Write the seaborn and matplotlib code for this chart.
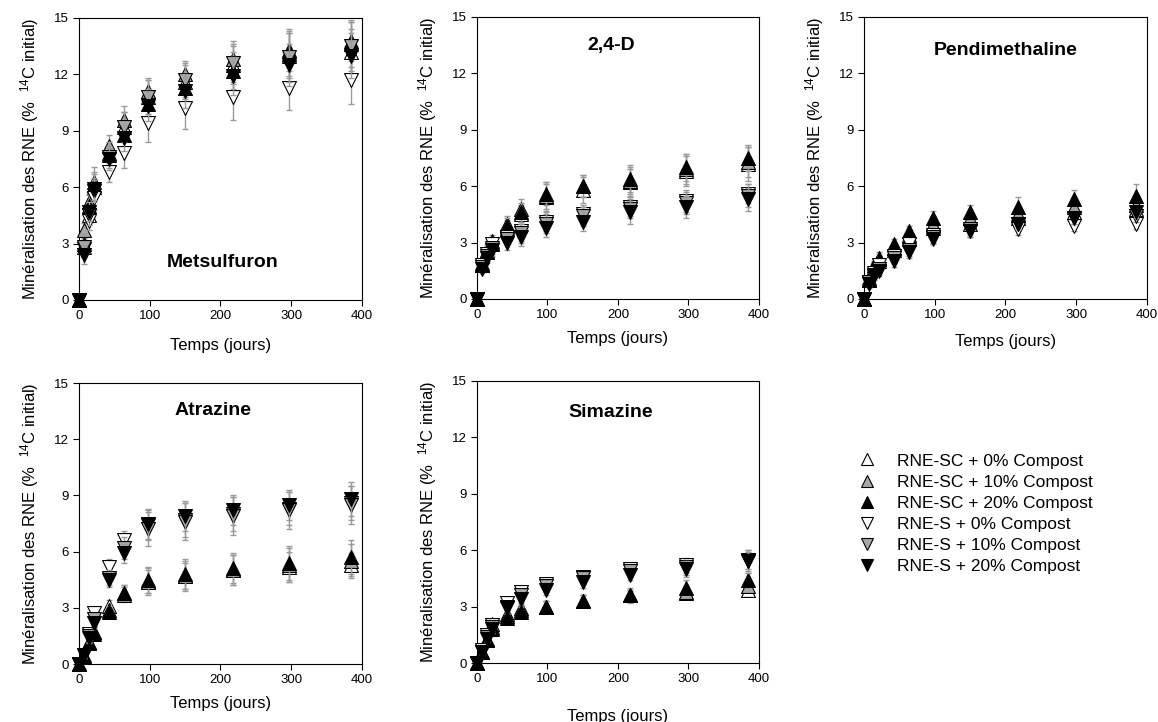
import matplotlib
matplotlib.use('Agg')
import numpy as np
import pandas as pd
import matplotlib.pyplot as plt
import seaborn as sns
from matplotlib.lines import Line2D

sns.set_style('ticks')
plt.rcParams['font.family'] = ['Liberation Sans', 'DejaVu Sans']
plt.rcParams['mathtext.default'] = 'regular'
plt.rcParams['text.color'] = 'black'
plt.rcParams['axes.labelcolor'] = 'black'

# ---- data ----
times = [0, 7, 14, 21, 42, 63, 98, 150, 217, 297, 385]

series = ['RNE-SC + 0% Compost', 'RNE-SC + 10% Compost', 'RNE-SC + 20% Compost',
          'RNE-S + 0% Compost', 'RNE-S + 10% Compost', 'RNE-S + 20% Compost']

metsulfuron_mean = [
    [0, 2.8, 4.5, 6.0, 7.8, 9.2, 10.8, 11.6, 12.5, 13.0, 13.2],
    [0, 3.7, 5.2, 6.3, 8.2, 9.6, 11.1, 12.0, 12.8, 13.1, 13.6],
    [0, 3.0, 5.0, 6.1, 7.7, 8.8, 10.4, 11.3, 12.2, 13.3, 13.8],
    [0, 2.7, 4.2, 5.4, 6.8, 7.8, 9.4, 10.2, 10.8, 11.3, 11.7],
    [0, 2.8, 4.5, 5.8, 7.6, 9.2, 10.8, 11.7, 12.6, 12.9, 13.5],
    [0, 2.4, 4.7, 5.9, 7.5, 8.6, 10.3, 11.1, 11.9, 12.5, 13.0],
]
metsulfuron_err = [
    [0, 0.4, 0.5, 0.7, 0.6, 0.8, 0.9, 0.9, 1.0, 1.2, 1.2],
    [0, 0.4, 0.5, 0.8, 0.6, 0.7, 0.7, 0.7, 1.0, 1.2, 1.2],
    [0, 0.5, 0.6, 0.7, 0.7, 0.8, 0.8, 0.8, 1.0, 1.1, 1.1],
    [0, 0.4, 0.5, 0.6, 0.5, 0.8, 1.0, 1.1, 1.2, 1.2, 1.3],
    [0, 0.4, 0.5, 0.6, 0.6, 0.8, 0.9, 0.9, 1.0, 1.3, 1.3],
    [0, 0.5, 0.5, 0.6, 0.6, 0.7, 0.8, 0.9, 1.0, 1.1, 1.2],
]

d24_mean = [
    [0, 1.8, 2.5, 2.9, 3.8, 4.5, 5.4, 5.8, 6.2, 6.8, 7.2],
    [0, 1.9, 2.6, 3.1, 4.0, 4.8, 5.5, 6.0, 6.3, 6.9, 7.3],
    [0, 1.8, 2.5, 3.0, 3.9, 4.6, 5.6, 6.0, 6.4, 7.0, 7.5],
    [0, 1.8, 2.4, 2.9, 3.3, 3.6, 4.1, 4.5, 4.9, 5.2, 5.6],
    [0, 1.7, 2.3, 2.7, 3.2, 3.5, 4.0, 4.4, 4.8, 5.1, 5.5],
    [0, 1.6, 2.2, 2.6, 3.0, 3.3, 3.8, 4.1, 4.6, 4.9, 5.3],
]
d24_err = [
    [0, 0.2, 0.3, 0.3, 0.4, 0.5, 0.7, 0.7, 0.7, 0.8, 0.9],
    [0, 0.2, 0.3, 0.3, 0.4, 0.5, 0.7, 0.6, 0.7, 0.8, 0.8],
    [0, 0.2, 0.3, 0.3, 0.4, 0.5, 0.6, 0.6, 0.7, 0.7, 0.7],
    [0, 0.2, 0.3, 0.3, 0.3, 0.5, 0.5, 0.5, 0.5, 0.6, 0.5],
    [0, 0.2, 0.3, 0.3, 0.3, 0.5, 0.5, 0.5, 0.5, 0.6, 0.6],
    [0, 0.2, 0.3, 0.3, 0.4, 0.5, 0.5, 0.5, 0.6, 0.6, 0.6],
]

pendimethaline_mean = [
    [0, 1.0, 1.6, 2.0, 2.6, 3.2, 3.8, 4.0, 4.3, 4.6, 4.8],
    [0, 1.1, 1.7, 2.2, 2.7, 3.4, 4.0, 4.3, 4.5, 4.9, 5.0],
    [0, 1.0, 1.8, 2.1, 2.9, 3.6, 4.3, 4.6, 4.9, 5.3, 5.5],
    [0, 0.9, 1.4, 1.8, 2.3, 2.9, 3.4, 3.6, 3.7, 3.9, 4.0],
    [0, 0.9, 1.3, 1.6, 2.2, 2.6, 3.3, 3.7, 4.0, 4.3, 4.4],
    [0, 0.8, 1.2, 1.5, 2.0, 2.5, 3.2, 3.6, 4.0, 4.3, 4.6],
]
pendimethaline_err = [
    [0, 0.2, 0.2, 0.3, 0.3, 0.3, 0.4, 0.4, 0.4, 0.5, 0.5],
    [0, 0.2, 0.2, 0.3, 0.3, 0.3, 0.4, 0.4, 0.4, 0.5, 0.5],
    [0, 0.2, 0.2, 0.3, 0.3, 0.3, 0.4, 0.4, 0.5, 0.5, 0.6],
    [0, 0.2, 0.2, 0.2, 0.3, 0.3, 0.3, 0.3, 0.3, 0.3, 0.3],
    [0, 0.2, 0.2, 0.2, 0.3, 0.3, 0.3, 0.3, 0.3, 0.3, 0.3],
    [0, 0.2, 0.2, 0.2, 0.3, 0.3, 0.3, 0.3, 0.3, 0.3, 0.3],
]

atrazine_mean = [
    [0, 0.5, 1.2, 1.7, 3.1, 3.8, 4.4, 4.7, 5.0, 5.2, 5.3],
    [0, 0.4, 1.1, 1.7, 2.9, 3.7, 4.4, 4.7, 5.0, 5.3, 5.5],
    [0, 0.4, 1.1, 1.6, 2.8, 3.8, 4.5, 4.8, 5.1, 5.4, 5.7],
    [0, 0.5, 1.6, 2.7, 5.2, 6.6, 7.4, 7.7, 8.0, 8.3, 8.6],
    [0, 0.5, 1.5, 2.4, 4.6, 6.2, 7.2, 7.6, 7.9, 8.2, 8.5],
    [0, 0.5, 1.4, 2.2, 4.5, 5.9, 7.5, 7.9, 8.2, 8.5, 8.8],
]
atrazine_err = [
    [0, 0.2, 0.2, 0.3, 0.3, 0.4, 0.6, 0.7, 0.8, 0.8, 0.6],
    [0, 0.2, 0.2, 0.3, 0.3, 0.4, 0.7, 0.8, 0.8, 0.9, 0.9],
    [0, 0.2, 0.2, 0.3, 0.3, 0.4, 0.7, 0.8, 0.8, 0.9, 0.9],
    [0, 0.2, 0.3, 0.3, 0.4, 0.5, 0.8, 0.9, 0.9, 0.9, 0.9],
    [0, 0.2, 0.3, 0.3, 0.4, 0.6, 0.9, 1.0, 1.0, 1.0, 1.0],
    [0, 0.2, 0.3, 0.3, 0.4, 0.5, 0.8, 0.8, 0.8, 0.8, 0.9],
]

simazine_mean = [
    [0, 0.6, 1.3, 2.1, 2.6, 2.9, 3.0, 3.3, 3.6, 3.7, 3.9],
    [0, 0.6, 1.2, 1.9, 2.5, 2.8, 3.0, 3.3, 3.6, 3.8, 4.1],
    [0, 0.6, 1.2, 1.8, 2.4, 2.7, 3.0, 3.3, 3.6, 4.0, 4.4],
    [0, 0.7, 1.5, 2.0, 3.2, 3.8, 4.2, 4.6, 5.0, 5.2, 5.5],
    [0, 0.6, 1.4, 1.9, 3.0, 3.6, 4.1, 4.5, 4.9, 5.1, 5.4],
    [0, 0.6, 1.3, 1.8, 2.9, 3.4, 3.9, 4.3, 4.7, 5.0, 5.4],
]
simazine_err = [
    [0, 0.1, 0.2, 0.2, 0.2, 0.3, 0.3, 0.3, 0.3, 0.3, 0.3],
    [0, 0.1, 0.2, 0.2, 0.2, 0.3, 0.3, 0.3, 0.3, 0.3, 0.3],
    [0, 0.1, 0.2, 0.2, 0.2, 0.3, 0.3, 0.3, 0.4, 0.4, 0.4],
    [0, 0.1, 0.2, 0.2, 0.2, 0.3, 0.3, 0.3, 0.3, 0.4, 0.5],
    [0, 0.1, 0.2, 0.2, 0.2, 0.3, 0.3, 0.3, 0.3, 0.4, 0.5],
    [0, 0.1, 0.2, 0.2, 0.2, 0.3, 0.3, 0.3, 0.3, 0.4, 0.6],
]

markers = ['^', '^', '^', 'v', 'v', 'v']
faces = ['white', '#a8a8a8', 'black', 'white', '#a8a8a8', 'black']

# name, means, errors, axes [l, b, w, h] in fig fraction, title pos (data), xlabel pad
panels = [
    ('Metsulfuron', metsulfuron_mean, metsulfuron_err, [0.0682, 0.5845, 0.2444, 0.3906], (203, 2.0), 11),
    ('2,4-D', d24_mean, d24_err, [0.4119, 0.5859, 0.2435, 0.3906], (190, 13.5), 7),
    ('Pendimethaline', pendimethaline_mean, pendimethaline_err, [0.7461, 0.5859, 0.2444, 0.3906], (200, 13.2), 9),
    ('Atrazine', atrazine_mean, atrazine_err, [0.0682, 0.0803, 0.2444, 0.3892], (190, 13.55), 7),
    ('Simazine', simazine_mean, simazine_err, [0.4119, 0.0817, 0.2435, 0.3906], (189, 13.35), 17),
]

fig = plt.figure(figsize=(11.58, 7.22), dpi=100)

for name, means, errs, rect, title_xy, xpad in panels:
    ax = fig.add_axes(rect)
    rows = []
    for lab, m, e in zip(series, means, errs):
        for t, v, s in zip(times, m, e):
            rows.append({'series': lab, 't': t, 'v': v, 'e': s})
    df = pd.DataFrame(rows)

    for i, lab in enumerate(series):
        sub = df[df['series'] == lab]
        ax.errorbar(sub['t'], sub['v'], yerr=sub['e'], fmt='none', ecolor='#9a9a9a',
                    elinewidth=1.0, capsize=2.5, capthick=1.0, zorder=2 + i, clip_on=False)
        sns.scatterplot(data=sub, x='t', y='v', marker=markers[i], color=faces[i],
                        edgecolor='black', linewidth=0.8, s=100, ax=ax, legend=False,
                        zorder=2.5 + i, clip_on=False)

    ax.set_xlim(0, 400)
    ax.set_ylim(0, 15)
    ax.set_xticks(range(0, 401, 100))
    ax.set_yticks(range(0, 16, 3))
    ax.tick_params(direction='out', length=4, width=0.8, labelsize=9.5, colors='black')
    for sp in ax.spines.values():
        sp.set_visible(True)
        sp.set_linewidth(0.8)
        sp.set_color('black')
    ax.set_xlabel('Temps (jours)', fontsize=12, labelpad=xpad)
    ax.set_ylabel('Minéralisation des RNE (%  $^{14}$C initial)', fontsize=12, labelpad=9)
    ax.text(title_xy[0], title_xy[1], name, fontsize=14, fontweight='bold',
            ha='center', va='center', color='black')

handles = [Line2D([], [], linestyle='none', marker=markers[i], markersize=9,
                  markerfacecolor=faces[i], markeredgecolor='black', markeredgewidth=0.8)
           for i in range(len(series))]
fig.legend(handles, series, loc='upper left', bbox_to_anchor=(0.741, 0.372),
           frameon=False, fontsize=12.5, handlelength=1.0, handletextpad=1.25,
           labelspacing=0.34, borderpad=0, borderaxespad=0)

fig.savefig('out.png', dpi=100)
